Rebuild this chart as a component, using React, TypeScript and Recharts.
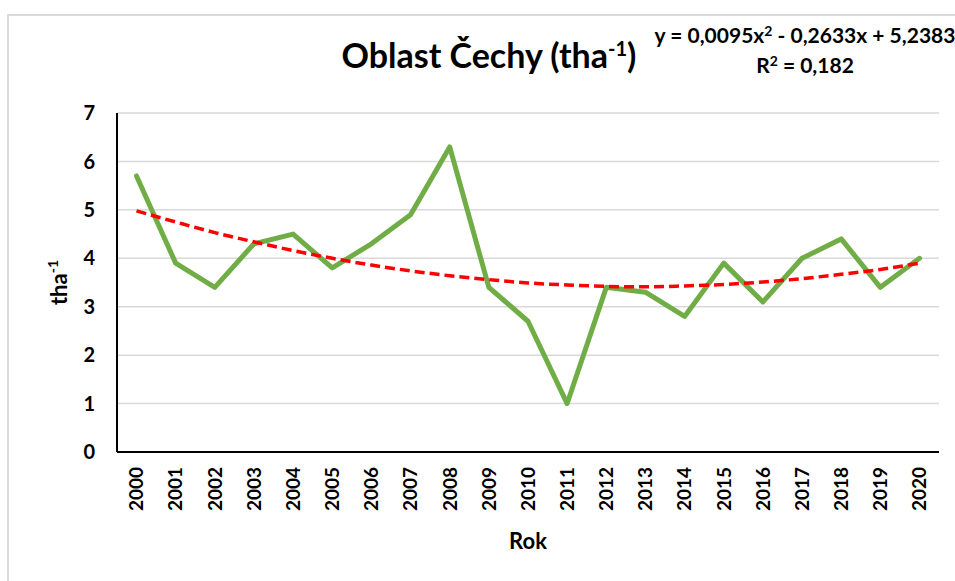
import React from 'react';
import { LineChart, Line, XAxis, YAxis, CartesianGrid, Label } from 'recharts';

const years = ['2000', '2001', '2002', '2003', '2004', '2005', '2006', '2007', '2008', '2009', '2010', '2011', '2012', '2013', '2014', '2015', '2016', '2017', '2018', '2019', '2020'];
const values = [5.7, 3.9, 3.4, 4.3, 4.5, 3.8, 4.3, 4.9, 6.3, 3.4, 2.7, 1.0, 3.4, 3.3, 2.8, 3.9, 3.1, 4.0, 4.4, 3.4, 4.0];
const trendValues = [4.98, 4.75, 4.53, 4.34, 4.16, 4.0, 3.86, 3.74, 3.64, 3.56, 3.49, 3.45, 3.42, 3.41, 3.43, 3.46, 3.51, 3.58, 3.67, 3.77, 3.9];
const yTicks = [0, 1, 2, 3, 4, 5, 6, 7];
const titleText = 'Oblast Čechy (tha';
const titleSup = '-1';
const titleEnd = ')';
const equationText = 'y = 0,0095x';
const equationRest = ' - 0,2633x + 5,2383';
const rSquaredText = 'R';
const rSquaredRest = ' = 0,182';
const xAxisTitle = 'Rok';
const yAxisTitle = 'tha';
const yAxisSup = '-1';

const data = years.map((year, i) => ({ year, value: values[i], trend: trendValues[i] }));

const FONT = 'Lato, "Open Sans", Arial, sans-serif';

const XTick = (props: any) => {
  const { x, y, payload } = props;
  return (
    <text
      x={x}
      y={y}
      dy="0.36em"
      textAnchor="end"
      transform={`rotate(-90 ${x} ${y})`}
      fontFamily={FONT}
      fontWeight={700}
      fontSize={19}
      fill="#000"
    >
      {payload.value}
    </text>
  );
};

const YTitle = (props: any) => {
  const vb = props.viewBox || { x: 0, y: 0, width: 0, height: 0 };
  const bx = vb.x + 10;
  const cy = vb.y + vb.height / 2;
  return (
    <text
      x={bx}
      y={cy}
      textAnchor="middle"
      transform={`rotate(-90 ${bx} ${cy})`}
      fontFamily={FONT}
      fontWeight={700}
      fontSize={22}
      fill="#000"
    >
      <tspan>{yAxisTitle}</tspan>
      <tspan dy={-9} fontSize={14}>{yAxisSup}</tspan>
    </text>
  );
};

const XTitle = (props: any) => {
  const vb = props.viewBox || { x: 0, y: 0, width: 0, height: 0 };
  return (
    <text
      x={vb.x + vb.width / 2}
      y={vb.y + vb.height - 3}
      textAnchor="middle"
      fontFamily={FONT}
      fontWeight={700}
      fontSize={22}
      fill="#000"
    >
      {xAxisTitle}
    </text>
  );
};

export default function App() {
  return (
    <div style={{ position: 'absolute', left: 0, top: 0, width: 955, height: 581, overflow: 'hidden', background: '#fff' }}>
      <div
        style={{
          position: 'absolute',
          left: 7,
          top: 14,
          width: 1200,
          height: 1200,
          border: '2px solid #d9d9d9',
          boxSizing: 'border-box',
        }}
      />
      <div style={{ position: 'absolute', left: 0, top: 0 }}>
        <LineChart width={955} height={581} data={data} margin={{ top: 113, right: 16, bottom: 29, left: 57 }}>
          <CartesianGrid vertical={false} stroke="#d9d9d9" strokeWidth={1.5} />
          <XAxis
            dataKey="year"
            height={100}
            interval={0}
            padding={{ left: 19.5, right: 19.5 }}
            tickLine={false}
            tickMargin={9}
            axisLine={{ stroke: '#000', strokeWidth: 2 }}
            tick={<XTick />}
          >
            <Label content={<XTitle />} />
          </XAxis>
          <YAxis
            domain={[0, 7]}
            ticks={yTicks}
            width={60}
            tickLine={false}
            tickMargin={16}
            axisLine={{ stroke: '#000', strokeWidth: 2 }}
            tick={{ fontFamily: FONT, fontWeight: 700, fontSize: 20, fill: '#000' }}
          >
            <Label content={<YTitle />} />
          </YAxis>
          <Line
            type="linear"
            dataKey="value"
            stroke="#70ad47"
            strokeWidth={5}
            dot={false}
            strokeLinejoin="round"
            strokeLinecap="round"
            isAnimationActive={false}
          />
          <Line
            type="monotone"
            dataKey="trend"
            stroke="#ff0000"
            strokeWidth={3.5}
            strokeDasharray="10 5"
            dot={false}
            isAnimationActive={false}
          />
        </LineChart>
      </div>
      <div
        style={{
          position: 'absolute',
          left: 189,
          width: 600,
          top: 35,
          textAlign: 'center',
          fontFamily: FONT,
          fontWeight: 700,
          fontSize: 34,
          lineHeight: '40px',
          color: '#000',
          whiteSpace: 'nowrap',
        }}
      >
        {titleText}
        <span style={{ fontSize: 20, position: 'relative', top: -12 }}>{titleSup}</span>
        {titleEnd}
      </div>
      <div
        style={{
          position: 'absolute',
          left: 605,
          width: 400,
          top: 21,
          textAlign: 'center',
          fontFamily: FONT,
          fontWeight: 700,
          fontSize: 21,
          lineHeight: '27px',
          color: '#000',
          whiteSpace: 'nowrap',
        }}
      >
        <div>
          {equationText}
          <span style={{ fontSize: 14, position: 'relative', top: -7 }}>2</span>
          {equationRest}
        </div>
        <div>
          {rSquaredText}
          <span style={{ fontSize: 14, position: 'relative', top: -7 }}>2</span>
          {rSquaredRest}
        </div>
      </div>
    </div>
  );
}
